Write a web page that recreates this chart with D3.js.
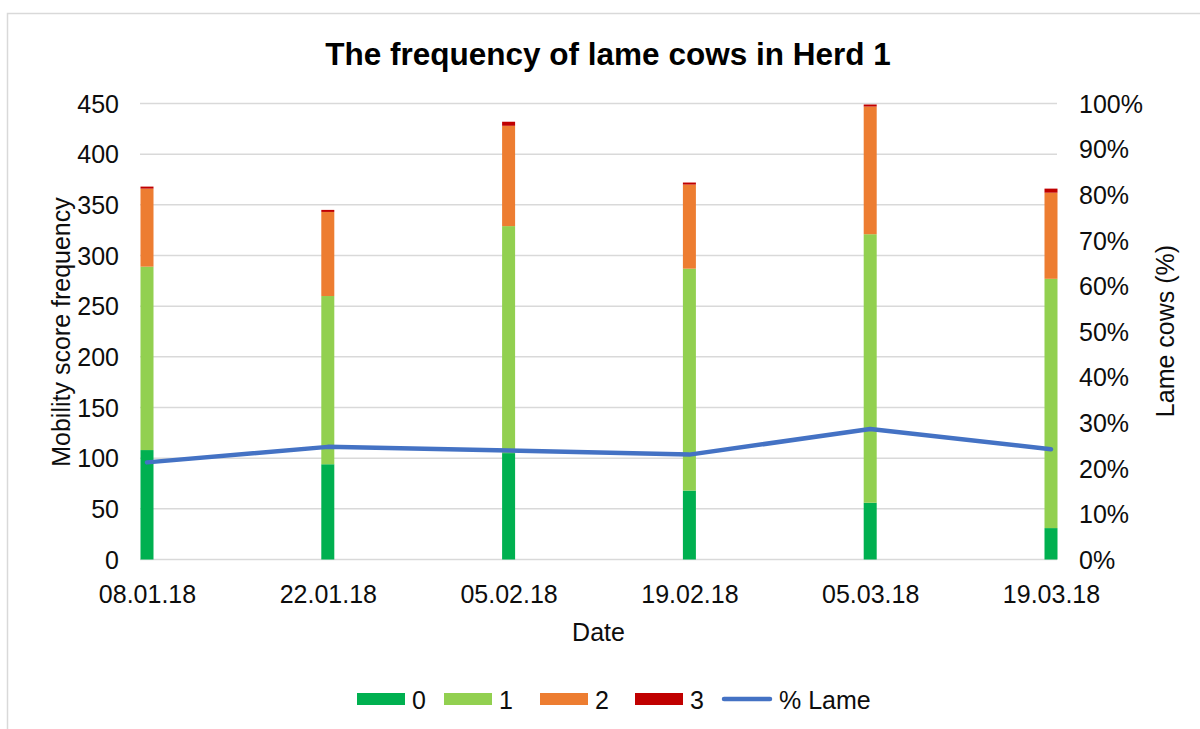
<!DOCTYPE html>
<html>
<head>
<meta charset="utf-8">
<script src="https://cdn.jsdelivr.net/npm/d3@7"></script>
<style>
  html, body { margin: 0; padding: 0; background: #fff; }
  svg { display: block; font-family: "Liberation Sans", Arial, sans-serif; }
</style>
</head>
<body>
<svg id="chart" width="1200" height="729"></svg>
<script>
const dates = ["08.01.18", "22.01.18", "05.02.18", "19.02.18", "05.03.18", "19.03.18"];
const score0 = [108, 94, 105, 68, 56, 31];
const score1 = [181, 166, 224, 219, 265, 246];
const score2 = [77, 83, 99, 83, 126, 85];
const score3 = [2, 2, 4, 2, 2, 4];
const pctLame = [21.3, 24.7, 23.9, 23.0, 28.6, 24.2];
const leftTicks = [0, 50, 100, 150, 200, 250, 300, 350, 400, 450];
const rightTicks = [0, 10, 20, 30, 40, 50, 60, 70, 80, 90, 100];
const seriesNames = ["0", "1", "2", "3"];
const seriesColors = ["#00b050", "#92d050", "#ed7d31", "#c00000"];
const lineName = "% Lame";
const lineColor = "#4472c4";

const svg = d3.select("#chart");
const textColor = "#0d0d0d";
const gridColor = "#d9d9d9";
const fs = 25;

// chart area border
svg.append("rect").attr("x", 7.5).attr("y", 13.5).attr("width", 1200).attr("height", 730)
  .attr("fill", "#fff").attr("stroke", gridColor).attr("stroke-width", 1.5);

const plot = { left: 140, right: 1057, top: 103.5, bottom: 559.5 };
const x = d3.scalePoint().domain(dates).range([147, 1051]);
const y = d3.scaleLinear().domain([0, 450]).range([plot.bottom, plot.top]);
const y2 = d3.scaleLinear().domain([0, 100]).range([plot.bottom, plot.top]);

// gridlines
svg.append("g").selectAll("line").data(leftTicks).join("line")
  .attr("x1", plot.left).attr("x2", plot.right)
  .attr("y1", d => y(d)).attr("y2", d => y(d))
  .attr("stroke", gridColor).attr("stroke-width", 1.5);

// stacked bars
const rows = dates.map((d, i) => ({ date: d, s0: score0[i], s1: score1[i], s2: score2[i], s3: score3[i] }));
const stack = d3.stack().keys(["s0", "s1", "s2", "s3"])(rows);
const barW = 13;
svg.append("g").selectAll("g").data(stack).join("g")
  .attr("fill", (d, i) => seriesColors[i])
  .selectAll("rect").data(d => d).join("rect")
  .attr("x", d => x(d.data.date) - barW / 2)
  .attr("width", barW)
  .attr("y", d => y(d[1]))
  .attr("height", d => y(d[0]) - y(d[1]));

// line
const line = d3.line().x((d, i) => x(dates[i])).y(d => y2(d));
svg.append("path").datum(pctLame).attr("d", line)
  .attr("fill", "none").attr("stroke", lineColor).attr("stroke-width", 4.5)
  .attr("stroke-linejoin", "round").attr("stroke-linecap", "round");

// left axis
const leftAxis = d3.axisLeft(y).tickValues(leftTicks).tickSize(0).tickPadding(0);
const gl = svg.append("g").attr("transform", `translate(119,0)`).call(leftAxis);
gl.select(".domain").remove();
gl.selectAll("text").attr("font-size", fs).attr("fill", textColor)
  .attr("font-family", "Liberation Sans, Arial, sans-serif").attr("dy", "0.35em");

// right axis
const rightAxis = d3.axisRight(y2).tickValues(rightTicks).tickFormat(d => d + "%").tickSize(0).tickPadding(0);
const gr = svg.append("g").attr("transform", `translate(1079,0)`).call(rightAxis);
gr.select(".domain").remove();
gr.selectAll("text").attr("font-size", fs).attr("fill", textColor)
  .attr("font-family", "Liberation Sans, Arial, sans-serif").attr("dy", "0.35em");

// bottom axis
const bottomAxis = d3.axisBottom(x).tickSize(0).tickPadding(0);
const gb = svg.append("g").attr("transform", `translate(0,0)`).call(bottomAxis);
gb.select(".domain").remove();
gb.selectAll("text").attr("font-size", fs).attr("fill", textColor)
  .attr("font-family", "Liberation Sans, Arial, sans-serif").attr("y", 603).attr("dy", null);

// title
svg.append("text").attr("x", 608).attr("y", 65).attr("text-anchor", "middle")
  .attr("font-size", 31.5).attr("font-weight", "bold").attr("fill", "#000")
  .text("The frequency of lame cows in Herd 1");

// axis titles
svg.append("text").attr("x", 598.5).attr("y", 641).attr("text-anchor", "middle")
  .attr("font-size", fs).attr("fill", textColor).text("Date");
svg.append("text").attr("transform", "translate(70,332) rotate(-90)").attr("text-anchor", "middle")
  .attr("font-size", fs).attr("fill", textColor).text("Mobility score frequency");
svg.append("text").attr("transform", "translate(1174,331) rotate(-90)").attr("text-anchor", "middle")
  .attr("font-size", fs).attr("fill", textColor).text("Lame cows (%)");

// legend
const legendItems = [
  { name: seriesNames[0], color: seriesColors[0], type: "rect", x: 357 },
  { name: seriesNames[1], color: seriesColors[1], type: "rect", x: 444 },
  { name: seriesNames[2], color: seriesColors[2], type: "rect", x: 540 },
  { name: seriesNames[3], color: seriesColors[3], type: "rect", x: 635 },
  { name: lineName, color: lineColor, type: "line", x: 724 }
];
const lg = svg.append("g");
legendItems.forEach(it => {
  if (it.type === "rect") {
    lg.append("rect").attr("x", it.x).attr("y", 693).attr("width", 48).attr("height", 12).attr("fill", it.color);
  } else {
    lg.append("line").attr("x1", it.x).attr("x2", it.x + 46).attr("y1", 699).attr("y2", 699)
      .attr("stroke", it.color).attr("stroke-width", 4.5).attr("stroke-linecap", "round");
  }
  lg.append("text").attr("x", it.x + 55).attr("y", 709)
    .attr("font-size", fs).attr("fill", textColor).text(it.name);
});
</script>
</body>
</html>
